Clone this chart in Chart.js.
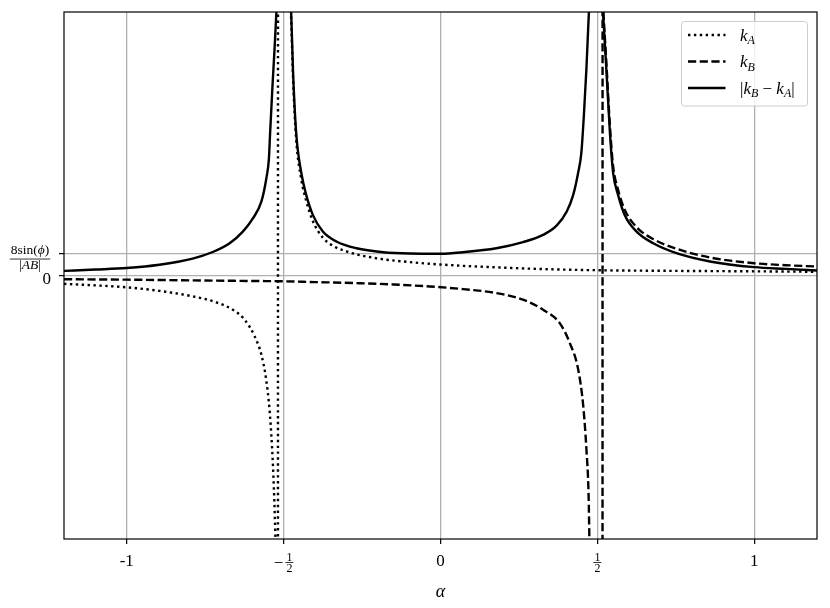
<!DOCTYPE html>
<html>
<head>
<meta charset="utf-8">
<script src="https://cdn.jsdelivr.net/npm/chart.js@4.4.1/dist/chart.umd.min.js"></script>
<style>
  html, body { margin: 0; padding: 0; background: #fff; }
</style>
</head>
<body>
<canvas id="chart" width="830" height="608"></canvas>
<script>
// values, y in units of 8sin(phi)/|AB|
// points just past the top/bottom edge carry each curve out of the frame at the asymptotes
const alphaA = [-1.2, -1.1, -1.0, -0.896, -0.79, -0.715, -0.662, -0.625, -0.593, -0.571, -0.556, -0.545, -0.537, -0.531, -0.526, -0.5181,
  -0.5179, -0.476, -0.47, -0.46, -0.444, -0.428, -0.407, -0.375, -0.332, -0.3, -0.268, -0.226, -0.183, -0.12, -0.05, 0.0,
  0.072, 0.15, 0.231, 0.31, 0.39, 0.45, 0.508, 0.55, 0.65, 0.75, 0.87, 1.0, 1.1, 1.2];
const kA = [-0.38, -0.45, -0.54, -0.7, -0.95, -1.22, -1.56, -2.0, -2.75, -3.6, -4.7, -6.1, -7.8, -9.7, -12.0, -16,
  24, 11.7, 9.0, 6.2, 4.4, 3.4, 2.48, 1.72, 1.27, 1.1, 0.96, 0.84, 0.74, 0.64, 0.55, 0.5,
  0.44, 0.39, 0.34, 0.3, 0.27, 0.25, 0.24, 0.23, 0.22, 0.21, 0.2, 0.19, 0.18, 0.17];

const alphaB = [-1.2, -1.0, -0.8, -0.6, -0.52, -0.4, -0.257, -0.15, -0.034, 0.072, 0.178, 0.263, 0.327, 0.38, 0.412, 0.439,
  0.455, 0.465, 0.472, 0.4745, 0.5162, 0.5166, 0.518, 0.529, 0.54, 0.55, 0.566, 0.587, 0.625, 0.678, 0.752, 0.859, 1.0, 1.1, 1.2];
const kB = [-0.17, -0.19, -0.22, -0.25, -0.26, -0.3, -0.35, -0.41, -0.5, -0.62, -0.8, -1.1, -1.56, -2.17, -3.07, -4.29,
  -5.95, -7.9, -10.0, -12.0, -55, 12.7, 12.3, 9.6, 6.8, 5.0, 3.9, 3.0, 2.2, 1.66, 1.22, 0.82, 0.56, 0.47, 0.41];

const alphaDiff = [-1.2, -1.1, -1.0, -0.896, -0.79, -0.726, -0.672, -0.63, -0.598, -0.571, -0.555, -0.547, -0.543, -0.536, -0.529, -0.523,
  -0.5, -0.476, -0.47, -0.46, -0.444, -0.428, -0.407, -0.375, -0.332, -0.268, -0.183, -0.098, 0.0, 0.072, 0.178, 0.263,
  0.327, 0.37, 0.402, 0.423, 0.439, 0.449, 0.457, 0.465, 0.473, 0.4955, 0.518, 0.529, 0.54, 0.55, 0.566, 0.587,
  0.625, 0.678, 0.752, 0.859, 1.0, 1.1, 1.2];
const kDiff = [0.21, 0.27, 0.34, 0.49, 0.77, 1.07, 1.47, 2.0, 2.6, 3.36, 4.43, 5.3, 6.5, 8.5, 10.3, 12.0,
  18, 12.0, 9.3, 6.5, 4.7, 3.67, 2.76, 2.0, 1.55, 1.24, 1.06, 1.0, 0.99, 1.06, 1.24, 1.52,
  1.85, 2.27, 2.9, 3.67, 4.7, 5.6, 7.3, 9.4, 12.0, 18, 12.0, 9.3, 6.5, 4.7, 3.67, 2.76,
  2.0, 1.47, 1.02, 0.64, 0.38, 0.3, 0.23];

const xTicks = [-1, -0.5, 0, 0.5, 1];
const xTickLabels = ['-1', '-1/2', '0', '1/2', '1'];
const yTicks = [0, 1];
const yTickLabels = ['0', '8sin(ϕ)/|AB|'];

// legend text: r = roman, i = italic, s = italic subscript
const legendLabels = [
  [['k', 'i'], ['A', 's']],
  [['k', 'i'], ['B', 's']],
  [['|', 'r'], ['k', 'i'], ['B', 's'], [' − ', 'r'], ['k', 'i'], ['A', 's'], ['|', 'r']]
];

const SERIF = '"Liberation Serif", "DejaVu Serif", serif';
const toPts = (xs, ys) => xs.map((x, i) => ({ x: x, y: ys[i] }));

function runFont(kind, size) {
  if (kind === 'i') return 'italic ' + size + 'px ' + SERIF;
  if (kind === 's') return 'italic ' + Math.round(size * 0.72) + 'px ' + SERIF;
  return size + 'px ' + SERIF;
}

function runsWidth(ctx, runs, size) {
  let w = 0;
  runs.forEach(r => { ctx.font = runFont(r[1], size); w += ctx.measureText(r[0]).width; });
  return w;
}

function drawRuns(ctx, runs, x, y, size) {
  ctx.textAlign = 'left';
  ctx.textBaseline = 'alphabetic';
  runs.forEach(r => {
    ctx.font = runFont(r[1], size);
    ctx.fillText(r[0], x, r[1] === 's' ? y + size * 0.22 : y);
    x += ctx.measureText(r[0]).width;
  });
}

const labelsPlugin = {
  id: 'labels',
  afterDraw(chart) {
    const ctx = chart.ctx;
    const xs = chart.scales.x, ys = chart.scales.y;
    ctx.save();
    ctx.fillStyle = '#000';
    ctx.strokeStyle = '#000';

    // x tick labels
    xTicks.forEach((v, i) => {
      const px = xs.getPixelForValue(v);
      const lab = xTickLabels[i];
      if (lab.indexOf('/') < 0) {
        ctx.font = '17px ' + SERIF;
        ctx.textAlign = 'center';
        ctx.textBaseline = 'alphabetic';
        ctx.fillText(lab, px, 566);
        return;
      }
      const neg = lab[0] === '-';
      const parts = (neg ? lab.slice(1) : lab).split('/');
      ctx.font = '12px ' + SERIF;
      const fw = Math.max(ctx.measureText(parts[0]).width, ctx.measureText(parts[1]).width) + 2;
      let fx = px;
      if (neg) {
        ctx.font = '17px ' + SERIF;
        const mw = ctx.measureText('−').width;
        const total = mw + 2 + fw;
        const left = px - total / 2;
        ctx.textAlign = 'left';
        ctx.textBaseline = 'alphabetic';
        ctx.fillText('−', left, 568);
        fx = left + mw + 2 + fw / 2;
      }
      ctx.font = '12px ' + SERIF;
      ctx.textAlign = 'center';
      ctx.fillText(parts[0], fx, 560.5);
      ctx.fillText(parts[1], fx, 572);
      ctx.lineWidth = 0.8;
      ctx.beginPath();
      ctx.moveTo(fx - fw / 2, 562.5);
      ctx.lineTo(fx + fw / 2, 562.5);
      ctx.stroke();
    });

    // y tick labels
    yTicks.forEach((v, i) => {
      const py = ys.getPixelForValue(v);
      const lab = yTickLabels[i];
      if (lab.indexOf('/') < 0) {
        ctx.font = '17px ' + SERIF;
        ctx.textAlign = 'right';
        ctx.textBaseline = 'alphabetic';
        ctx.fillText(lab, 51, py + 8);
        return;
      }
      const num = [['8sin(', 'r'], ['ϕ', 'i'], [')', 'r']];
      const den = [['|', 'r'], ['AB', 'i'], ['|', 'r']];
      const nw = runsWidth(ctx, num, 13.5);
      const dw = runsWidth(ctx, den, 13.5);
      const cx = 30;
      drawRuns(ctx, num, cx - nw / 2, py + 0.5, 13.5);
      drawRuns(ctx, den, cx - dw / 2, py + 15, 13.5);
      ctx.lineWidth = 0.8;
      ctx.beginPath();
      ctx.moveTo(cx - nw / 2 - 1, py + 5.5);
      ctx.lineTo(cx + nw / 2 + 1, py + 5.5);
      ctx.stroke();
    });

    // axis title
    ctx.font = 'italic 18px ' + SERIF;
    ctx.textAlign = 'center';
    ctx.textBaseline = 'alphabetic';
    ctx.fillText('α', (chart.chartArea.left + chart.chartArea.right) / 2, 597);
    ctx.restore();
  },
  afterDatasetsDraw(chart) {
    const ctx = chart.ctx;
    const a = chart.chartArea;
    ctx.save();
    // axes frame
    ctx.strokeStyle = '#000';
    ctx.lineWidth = 1.2;
    ctx.strokeRect(a.left, a.top, a.right - a.left, a.bottom - a.top);

    // legend box
    const bx = 681.5, by = 21.5, bw = 126, bh = 84.5, r = 3;
    ctx.beginPath();
    ctx.moveTo(bx + r, by);
    ctx.arcTo(bx + bw, by, bx + bw, by + bh, r);
    ctx.arcTo(bx + bw, by + bh, bx, by + bh, r);
    ctx.arcTo(bx, by + bh, bx, by, r);
    ctx.arcTo(bx, by, bx + bw, by, r);
    ctx.closePath();
    ctx.fillStyle = 'rgba(255,255,255,0.8)';
    ctx.fill();
    ctx.strokeStyle = '#cccccc';
    ctx.lineWidth = 1;
    ctx.stroke();

    const rows = [35, 61.5, 88];
    [0, 1, 2].forEach((di, i) => {
      const ds = chart.data.datasets[di];
      ctx.strokeStyle = ds.borderColor;
      ctx.lineWidth = ds.borderWidth;
      ctx.lineCap = 'butt';
      ctx.setLineDash(ds.borderDash || []);
      ctx.beginPath();
      ctx.moveTo(688, rows[i]);
      ctx.lineTo(725.5, rows[i]);
      ctx.stroke();
      ctx.setLineDash([]);
      ctx.fillStyle = '#000';
      drawRuns(ctx, legendLabels[i], 740, rows[i] + 5.5, 17);
    });
    ctx.restore();
  }
};

const ctx = document.getElementById('chart').getContext('2d');
new Chart(ctx, {
  type: 'line',
  data: {
    datasets: [
      {
        label: 'kA',
        data: toPts(alphaA, kA),
        borderColor: '#000',
        borderWidth: 2.4,
        borderDash: [2.4, 3.5],
        borderCapStyle: 'butt',
        cubicInterpolationMode: 'monotone',
        pointRadius: 0,
        fill: false,
        order: 3
      },
      {
        label: 'kB',
        data: toPts(alphaB, kB),
        borderColor: '#000',
        borderWidth: 2.4,
        borderDash: [8.2, 3.5],
        borderCapStyle: 'butt',
        cubicInterpolationMode: 'monotone',
        pointRadius: 0,
        fill: false,
        order: 2
      },
      {
        label: '|kB - kA|',
        data: toPts(alphaDiff, kDiff),
        borderColor: '#000',
        borderWidth: 2.4,
        cubicInterpolationMode: 'monotone',
        pointRadius: 0,
        fill: false,
        order: 1
      }
    ]
  },
  options: {
    responsive: false,
    animation: false,
    devicePixelRatio: 1,
    layout: { padding: { top: 12, right: 13, left: 0, bottom: 0 } },
    plugins: {
      legend: { display: false },
      tooltip: { enabled: false }
    },
    scales: {
      x: {
        type: 'linear',
        min: -1.2,
        max: 1.2,
        afterBuildTicks: (scale) => { scale.ticks = xTicks.map(v => ({ value: v })); },
        afterFit: (scale) => { scale.height = 69; },
        ticks: { display: false },
        border: { display: false },
        grid: {
          color: '#b0b0b0',
          lineWidth: 1.3,
          tickColor: '#000',
          tickLength: 5,
          tickWidth: 1.2
        }
      },
      y: {
        type: 'linear',
        min: -12,
        max: 12,
        afterBuildTicks: (scale) => { scale.ticks = yTicks.map(v => ({ value: v })); },
        afterFit: (scale) => { scale.width = 64; },
        ticks: { display: false },
        border: { display: false },
        grid: {
          color: '#b0b0b0',
          lineWidth: 1.3,
          tickColor: '#000',
          tickLength: 5,
          tickWidth: 1.2
        }
      }
    }
  },
  plugins: [labelsPlugin]
});
</script>
</body>
</html>
